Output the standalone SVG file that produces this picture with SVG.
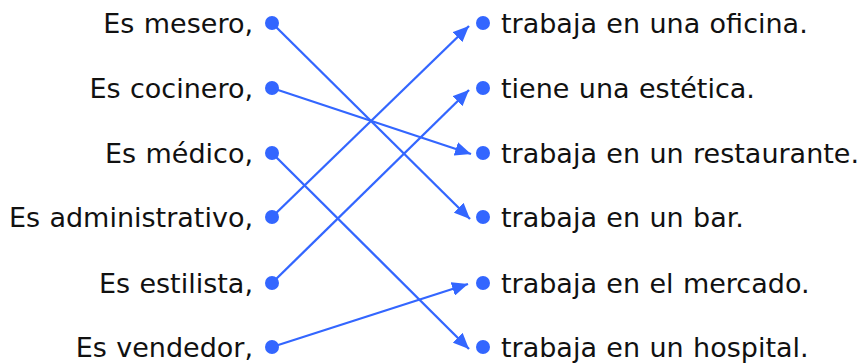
<svg xmlns="http://www.w3.org/2000/svg" width="859" height="363" viewBox="0 0 859 363">
<defs>
<style>
text{font-family:"DejaVu Sans",Verdana,sans-serif;font-size:27px;fill:#111;word-spacing:0.8px}
.l{text-anchor:end}
.dot{fill:#3366ff}
.c{stroke:#3366ff;stroke-width:2.3;fill:none;marker-end:url(#ah)}
</style>
<marker id="ah" markerUnits="userSpaceOnUse" markerWidth="18" markerHeight="14" refX="16" refY="7" orient="auto">
<path d="M0,0 L16,7 L0,14 Z" fill="#3366ff"/>
</marker>
</defs>
<rect width="859" height="363" fill="#fff"/>
<g id="connectors">
<line class="c" x1="272" y1="23" x2="470" y2="219"/>
<line class="c" x1="272" y1="88" x2="471" y2="154"/>
<line class="c" x1="272" y1="153" x2="469" y2="349"/>
<line class="c" x1="272" y1="217" x2="469" y2="26"/>
<line class="c" x1="272" y1="283" x2="469" y2="90"/>
<line class="c" x1="272" y1="347" x2="468" y2="284"/>
</g>
<g id="l1"><text class="l" x="253" y="33">Es mesero,</text><circle class="dot" cx="272" cy="23" r="7"/></g>
<g id="l2"><text class="l" x="253" y="98">Es cocinero,</text><circle class="dot" cx="272" cy="88" r="7"/></g>
<g id="l3"><text class="l" x="253" y="163">Es médico,</text><circle class="dot" cx="272" cy="153" r="7"/></g>
<g id="l4"><text class="l" x="253" y="227">Es administrativo,</text><circle class="dot" cx="272" cy="217" r="7"/></g>
<g id="l5"><text class="l" x="253" y="293">Es estilista,</text><circle class="dot" cx="272" cy="283" r="7"/></g>
<g id="l6"><text class="l" x="253" y="357">Es vendedor,</text><circle class="dot" cx="272" cy="347" r="7"/></g>
<g id="r1"><circle class="dot" cx="483" cy="23" r="7"/><text x="501" y="33">trabaja en una oficina.</text></g>
<g id="r2"><circle class="dot" cx="483" cy="88" r="7"/><text x="501" y="98">tiene una estética.</text></g>
<g id="r3"><circle class="dot" cx="483" cy="153" r="7"/><text x="501" y="163">trabaja en un restaurante.</text></g>
<g id="r4"><circle class="dot" cx="483" cy="217" r="7"/><text x="501" y="227">trabaja en un bar.</text></g>
<g id="r5"><circle class="dot" cx="483" cy="283" r="7"/><text x="501" y="293">trabaja en el mercado.</text></g>
<g id="r6"><circle class="dot" cx="483" cy="347" r="7"/><text x="501" y="357">trabaja en un hospital.</text></g>
</svg>
